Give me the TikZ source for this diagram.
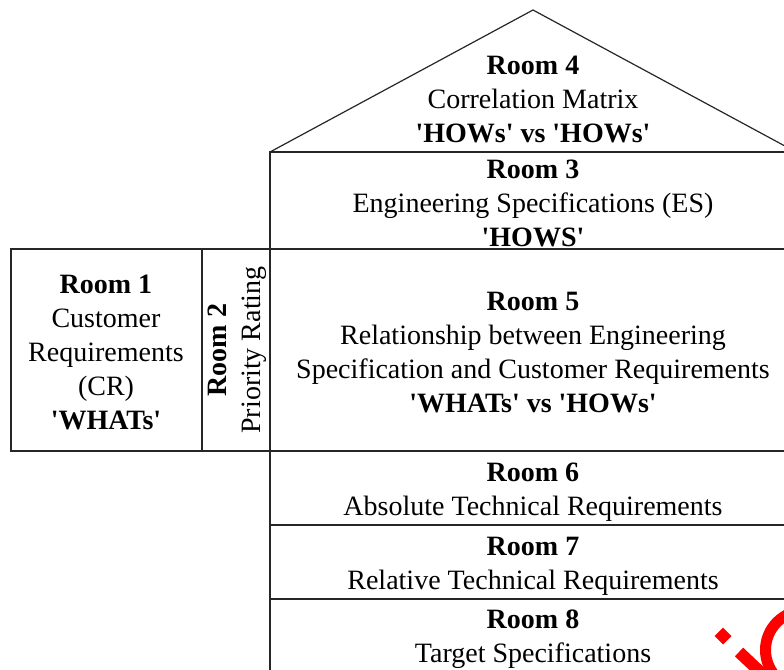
\documentclass[tikz,border=0pt]{standalone}
\usepackage{fontspec}
\setmainfont{Liberation Serif}[Ligatures=TeXOff]
\begin{document}
\begin{tikzpicture}[x=1pt,y=-1pt,
  font=\fontsize{28}{34}\selectfont,
  wall/.style={draw=black!85, line width=1.2pt},
  roomtext/.style={align=center, inner sep=0pt},
  mark/.style={fill=red, draw=none}]
\useasboundingbox (0,0) rectangle (784,669);
\clip (0,0) rectangle (784,669);
% roof
\coordinate (apex) at (533,10);
\coordinate (eaveL) at (270,152);
\coordinate (eaveR) at (796,152);
\draw[wall] (eaveL) -- (apex) -- (eaveR);
% rooms
\draw[wall] (270,152) rectangle (800,249);
\draw[wall] (11,249) rectangle (202,451);
\draw[wall] (202,249) rectangle (270,451);
\draw[wall] (270,249) rectangle (800,451);
\draw[wall] (270,451) rectangle (800,525);
\draw[wall] (270,525) rectangle (800,599);
\draw[wall] (270,599) rectangle (800,700);
% texts
\node[roomtext] (r4) at (533,99) {\textbf{Room 4}\\Correlation Matrix\\\textbf{'HOWs' vs 'HOWs'}};
\node[roomtext] (r3) at (533,203) {\textbf{Room 3}\\Engineering Specifications (ES)\\\textbf{'HOWS'}};
\node[roomtext] (r1) at (106,352) {\textbf{Room 1}\\Customer\\Requirements\\(CR)\\\textbf{'WHATs'}};
\node[roomtext, rotate=90] (r2) at (237,350) {\textbf{Room 2}\\Priority Rating};
\node[roomtext] (r5) at (533,353) {\textbf{Room 5}\\Relationship between Engineering\\Specification and Customer Requirements\\\textbf{'WHATs' vs 'HOWs'}};
\node[roomtext] (r6) at (533,492) {\textbf{Room 6}\\Absolute Technical Requirements};
\node[roomtext] (r7) at (533,566) {\textbf{Room 7}\\Relative Technical Requirements};
\node[roomtext] (r8) at (533,639) {\textbf{Room 8}\\Target Specifications};
% watermark fragment
\fill[red, rotate around={45:(723,636)}] (717,630) rectangle (729,642);
\draw[red, line width=12pt] (739,652) -- (772,683);
\draw[red, line width=11pt] (805,650) circle (39.5);
\end{tikzpicture}
\end{document}
